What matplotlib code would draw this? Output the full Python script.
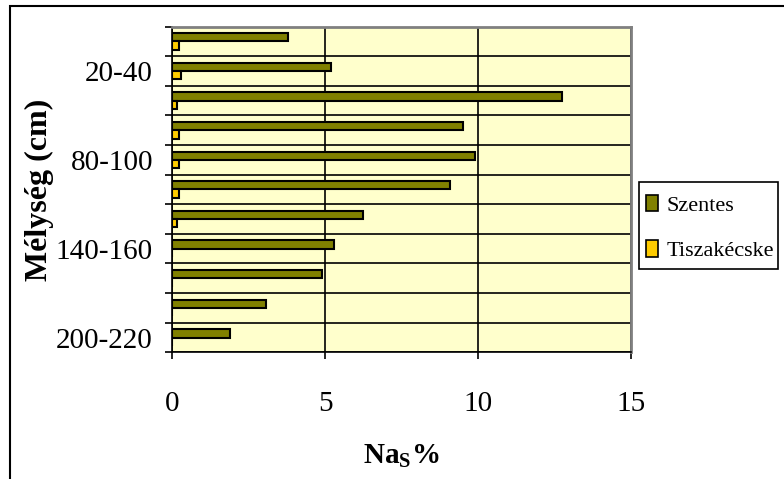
import numpy as np
import matplotlib
matplotlib.use('Agg')
import matplotlib.pyplot as plt
from matplotlib.patches import Rectangle

plt.rcParams['font.family'] = ['Liberation Serif', 'DejaVu Serif']

depths = ['0-20', '20-40', '40-60', '60-80', '80-100', '100-120',
          '120-140', '140-160', '160-180', '180-200', '200-220']
szentes = [3.8, 5.2, 12.75, 9.5, 9.9, 9.1, 6.25, 5.3, 4.9, 3.05, 1.9]
tiszakecske = [0.23, 0.28, 0.16, 0.23, 0.23, 0.23, 0.16, 0, 0, 0, 0]
shown_labels = ['20-40', '80-100', '140-160', '200-220']
x_ticks = [0, 5, 10, 15]

W, H = 784, 479
fig = plt.figure(figsize=(W / 100, H / 100), dpi=100)
ax = fig.add_axes([0.2198, 0.2645, 0.5847, 0.6798])
ax.set_facecolor('#FFFFCC')

y = np.arange(len(depths))
h = 0.28
ax.barh(y - h / 2, szentes, height=h, color='#808000', edgecolor='black',
        linewidth=1.5, label='Szentes', zorder=3)
ax.barh(y + h / 2, tiszakecske, height=h, color='#FFCC00', edgecolor='black',
        linewidth=1.5, label='Tiszakécske', zorder=3)

ax.set_xlim(0, 15)
ax.set_ylim(len(depths) - 0.5, -0.5)

# category borders carry the ticks and gridlines, labels sit in between
bounds = np.arange(len(depths) + 1) - 0.5
ax.set_yticks(bounds)
ax.set_yticklabels([])
ax.set_yticks([depths.index(d) for d in shown_labels], minor=True)
ax.set_yticklabels(shown_labels, minor=True, fontsize=21)
ax.tick_params(axis='y', which='minor', length=0, pad=14)
ax.tick_params(axis='y', which='major', length=5, width=1.2, direction='out')

ax.set_xticks(x_ticks)
ax.set_xticklabels([str(t) for t in x_ticks], fontsize=21)
ax.tick_params(axis='x', length=5, width=1.2, direction='out', pad=23)

ax.grid(True, which='major', color='black', linewidth=1.2, zorder=1)
ax.set_axisbelow(True)

for side in ['top', 'right']:
    ax.spines[side].set_color('#808080')
    ax.spines[side].set_linewidth(2)
for side in ['left', 'bottom']:
    ax.spines[side].set_color('black')
    ax.spines[side].set_linewidth(1.2)

ax.set_xlabel('Na$_\\mathregular{S}$%', fontsize=21, fontweight='bold', labelpad=18)
ax.set_ylabel('Mélység (cm)', fontsize=23, fontweight='bold', labelpad=1)

# legend entries without frame, box drawn separately
leg = fig.legend(loc='center', bbox_to_anchor=(710 / W, 1 - 228 / H),
                 fontsize=16, frameon=False,
                 handlelength=0.55, handleheight=0.75, handletextpad=0.4,
                 labelspacing=1.1, borderpad=0, borderaxespad=0)
for patch in leg.get_patches():
    patch.set_linewidth(1.2)
fig.patches.append(Rectangle((639 / W, 1 - 269 / H), 139 / W, 87 / H,
                             transform=fig.transFigure, fill=False,
                             edgecolor='black', linewidth=1.2))

# outer chart border
fig.patches.append(Rectangle((10 / W, -0.2), 1.2, 1.2 - 6 / H,
                             transform=fig.transFigure, fill=False,
                             edgecolor='black', linewidth=1.5))

fig.savefig('out.png', dpi=100)
